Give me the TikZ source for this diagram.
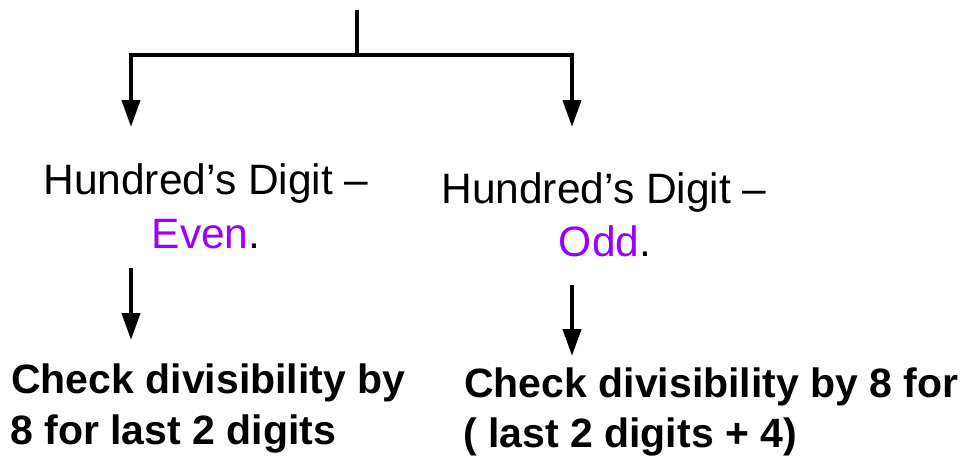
\documentclass[tikz,border=0pt]{standalone}
\usepackage{fontspec}
\setmainfont{Liberation Sans}
\usetikzlibrary{arrows.meta}
\definecolor{parity}{HTML}{9900FF}
\tikzset{
  wire/.style={line width=4.3pt, line join=miter},
  flow/.style={wire, -{Triangle[length=27pt,width=18pt]}},
  plain/.style={font=\fontsize{42.5}{54}\selectfont, inner sep=0pt, anchor=base},
  strong/.style={font=\fontsize{41}{54}\selectfont\bfseries, inner sep=0pt, anchor=base west},
}
\begin{document}
\begin{tikzpicture}[x=1pt, y=-1pt]
  \useasboundingbox (0,0) rectangle (960,456);

  % split from the top
  \coordinate (top) at (357,10);
  \coordinate (fork) at (357,55);
  \coordinate (evenin) at (131,127);
  \coordinate (oddin) at (572,127);
  \draw[wire] (top) -- (fork);
  \draw[flow] (fork) -| (evenin);
  \draw[flow] (fork) -| (oddin);

  % the two cases
  \node[plain] (evenA) at (206,194) {Hundred’s Digit –};
  \node[plain] (evenB) at (206,248) {\textcolor{parity}{Even}.};
  \node[plain] (oddA) at (604,203) {Hundred’s Digit –};
  \node[plain] (oddB) at (605,256) {\textcolor{parity}{Odd}.};

  % what to check in each case
  \coordinate (evenout) at (131,268);
  \coordinate (evencheck) at (131,340);
  \coordinate (oddout) at (572,285);
  \coordinate (oddcheck) at (572,356);
  \draw[flow] (evenout) -- (evencheck);
  \draw[flow] (oddout) -- (oddcheck);

  \node[strong] (ruleA1) at (11,393) {Check divisibility by};
  \node[strong] (ruleA2) at (10,444) {8 for last 2 digits};
  \node[strong] (ruleB1) at (464,397) {Check divisibility by 8 for};
  \node[strong] (ruleB2) at (463,447) {( last 2 digits + 4)};
\end{tikzpicture}
\end{document}
